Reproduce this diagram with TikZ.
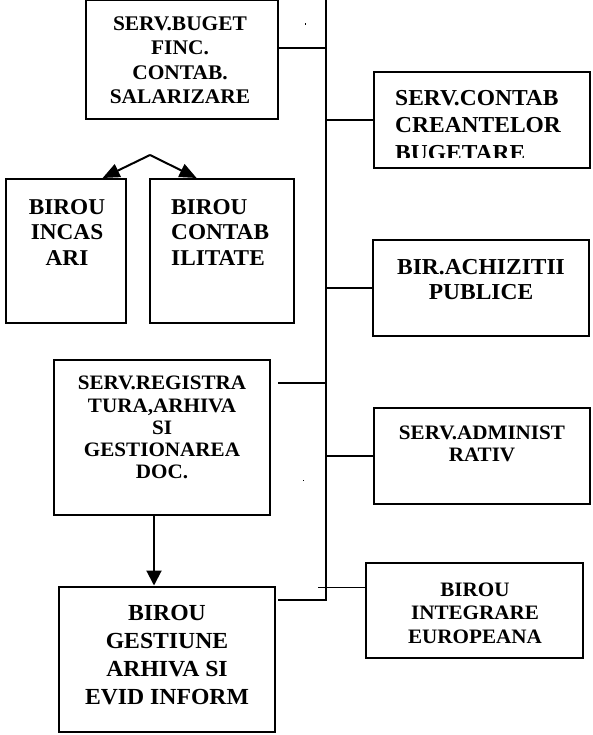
\documentclass[tikz,border=0pt]{standalone}
\usepackage{fontspec}
\setmainfont{Liberation Serif}[FakeStretch=1.03]
\usetikzlibrary{arrows.meta,calc}
\begin{document}
\begin{tikzpicture}[x=1pt,y=-1pt,
  box/.style 2 args={draw, line width=2pt, fill=white, inner sep=0pt,
    minimum width=#1pt, minimum height=#2pt},
  txt/.style 2 args={font=\fontsize{#1}{#2}\selectfont\bfseries, align=center, inner sep=0pt},
  ltxt/.style 2 args={font=\fontsize{#1}{#2}\selectfont\bfseries, align=left, inner sep=0pt, anchor=west},
  conn/.style={line width=2pt},
  thinconn/.style={line width=1pt},
  arr/.style={line width=2pt, -{Triangle[length=17pt,width=14pt]}},
  darr/.style={line width=2pt, -{Triangle[length=15pt,width=15pt]}}]
\useasboundingbox (0,0) rectangle (592,735);

% boxes
\node[box={192}{119}] (bug) at (182,59.5) {};
\node[box={216}{96}] (crt) at (482,120) {};
\node[box={216}{96}] (ach) at (481,288) {};
\node[box={120}{144}] (inc) at (66,251) {};
\node[box={144}{144}] (cbl) at (222,251) {};
\node[box={216}{154.5}] (reg) at (162,437.7) {};
\node[box={216}{96}] (adm) at (482,456) {};
\node[box={216.5}{145}] (gst) at (166.75,659) {};
\node[box={217}{95}] (int) at (474.5,610.5) {};

% texts
\node[txt={20.8}{24.2}] (bugt) at (180,60.3) {SERV.BUGET\\FINC.\\CONTAB.\\SALARIZARE};
\begin{scope}
  \clip (crt.north west) rectangle ($(crt.south east)+(0,-11.3)$);
  \node[ltxt={22.8}{27.5}] (crtt) at (395,125.5) {SERV.CONTAB\\CREANTELOR\\BUGETARE};
\end{scope}
\node[txt={22.8}{25}] (acht) at (481,279.2) {BIR.ACHIZITII\\PUBLICE};
\node[txt={22.6}{25.8}] (inct) at (67,232.5) {BIROU\\INCAS\\ARI};
\node[ltxt={22.6}{25.8}] (cblt) at (171,232.5) {BIROU\\CONTAB\\ILITATE};
\node[txt={20.5}{22.1}] (regt) at (162,427.5) {SERV.REGISTRA\\TURA,ARHIVA\\SI\\GESTIONAREA\\DOC.};
\node[txt={20.5}{21.7}] (admt) at (482,444.2) {SERV.ADMINIST\\RATIV};
\node[txt={23}{27.8}] (gstt) at (167,655) {BIROU\\GESTIUNE\\ARHIVA SI\\EVID INFORM};
\node[txt={20.5}{23.3}] (intt) at (475,613.3) {BIROU\\INTEGRARE\\EUROPEANA};

% trunk coordinates
\coordinate (ttop) at (326,0);
\coordinate (tbot) at (326,600);
\coordinate (t1) at (326,48);
\coordinate (t2) at (326,120);
\coordinate (t3) at (326,288);
\coordinate (t4) at (326,383);
\coordinate (t5) at (326,456);
\coordinate (r1) at (278,383);
\coordinate (g1) at (278,600);
\coordinate (i1) at (318,587);
\coordinate (apex) at (150,155);
\coordinate (dx) at (154,0);

% connectors
\draw[conn] (ttop) -- (tbot) -- (g1);
\draw[conn] (bug.east |- t1) -- (t1);
\draw[conn] (t2) -- (crt.west);
\draw[conn] (t3) -- (ach.west);
\draw[conn] (t4) -- (r1);
\draw[conn] (t5) -- (adm.west);
\draw[thinconn] (i1) -- (int.west |- i1);

\draw[arr] (apex) -- ($(inc.north west)!0.8!(inc.north east)$);
\draw[arr] (apex) -- ($(cbl.north west)!0.326!(cbl.north east)$);
\draw[darr] (reg.south -| dx) -- (gst.north -| dx);

% stray dots
\fill (305,23.5) rectangle (306.3,24.8);
\fill (303,479.5) rectangle (304.3,480.8);
\end{tikzpicture}
\end{document}
